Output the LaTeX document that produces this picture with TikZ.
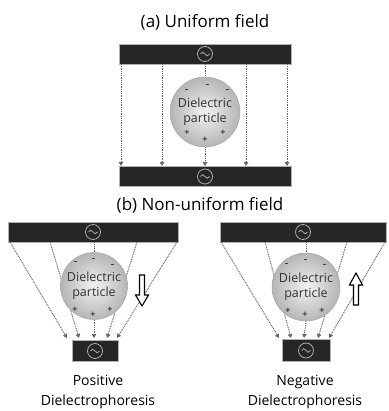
\documentclass[tikz,border=0pt]{standalone}
\usepackage{fontspec}
\setmainfont{Open Sans}
\usetikzlibrary{arrows.meta}
\begin{document}
\begin{tikzpicture}[x=1pt,y=-1pt,
  electrode/.style={draw=gray!60, line width=0.6pt, fill=black!85, inner sep=0pt},
  field/.style={draw=black!60, line width=1pt, dash pattern=on 0.9pt off 0.9pt},
  fieldarrow/.style={field, -{Triangle[length=4pt,width=4.5pt]}},
  particle/.style={circle, draw=gray!70, line width=0.5pt, shade, inner color=gray!10,
    outer color=gray!58, align=center, inner sep=0pt, font=\fontsize{12.5}{15}\selectfont,
    text=black!80},
  title/.style={font=\fontsize{17}{20}\selectfont},
  caption/.style={font=\fontsize{14}{20}\selectfont, align=center},
  chargetxt/.style={font=\fontsize{9}{9}\selectfont\bfseries, text=black!75, inner sep=0pt},
  hollow/.style={draw=black, line width=1.1pt, fill=white, line join=miter},
  acsrc/.pic={
    \draw[gray!65, line width=0.8pt] (0,0) circle (7.5);
    \draw[gray!65, line width=0.8pt] (-4.5,0) sin (-2.25,-1.8) cos (0,0) sin (2.25,1.8) cos (4.5,0);
  }
]
\useasboundingbox (0,0) rectangle (388,411);

% ---------------- (a) uniform field ----------------
\node[title] (ttla) at (205,22) {(a) Uniform field};
\node[electrode, minimum width=172, minimum height=20] (topa) at (205,54) {};
\node[electrode, minimum width=172, minimum height=20] (bota) at (205,176.5) {};
\pic at (topa) {acsrc};
\pic at (bota) {acsrc};

\foreach \x [count=\i] in {121,162,246,287} {
  \coordinate (as\i) at (\x,64);
  \coordinate (ae\i) at (\x,166);
  \draw[fieldarrow] (as\i) -- (ae\i);
}
\node[particle, minimum size=70] (pa) at (205,112) {Dielectric\\particle};
\coordinate (ae0) at (205,166);
\draw[field] (topa.south) -- (pa.north);
\draw[fieldarrow] (pa.south) -- (ae0);
\foreach \dx/\dy in {-19/-22,2/-27,22/-22}
  \node[chargetxt] at ([shift={(\dx,\dy)}]pa) {\rule{3pt}{1pt}};
\foreach \dx/\dy in {-18/21,0/28,18/21}
  \node[chargetxt] at ([shift={(\dx,\dy)}]pa) {+};

% ---------------- (b) non-uniform field ----------------
\node[title] (ttlb) at (200,205) {(b) Non-uniform field};

% positive dielectrophoresis
\node[electrode, minimum width=170, minimum height=20] (topl) at (93,232) {};
\node[electrode, minimum width=46, minimum height=21] (botl) at (95,351) {};
\pic at (topl) {acsrc};
\pic at (botl) {acsrc};
\foreach \xs/\xe [count=\i] in {10/67,50/79,137/107,177/117} {
  \coordinate (ls\i) at (\xs,242);
  \coordinate (le\i) at (\xe,338);
  \draw[fieldarrow] (ls\i) -- (le\i);
}
\node[particle, minimum size=67] (pl) at (94,286) {Dielectric\\particle};
\coordinate (le0) at (94,338);
\draw[field] (topl.south -| pl.north) -- (pl.north);
\draw[fieldarrow] (pl.south) -- (le0);
\foreach \dx/\dy in {-19/-25,-1/-28,18/-22}
  \node[chargetxt] at ([shift={(\dx,\dy)}]pl) {\rule{3pt}{1pt}};
\foreach \dx/\dy in {-19/24,-1/29,16/24}
  \node[chargetxt] at ([shift={(\dx,\dy)}]pl) {+};
\coordinate (dl) at (142,275);
\draw[hollow] ([shift={(-2.5,0)}]dl) -- ++(0,20) -- ++(-4,0) -- ++(6.5,11) -- ++(6.5,-11)
  -- ++(-4,0) -- ++(0,-20) -- cycle;
\node[caption] (capl) at (98,392) {Positive\\Dielectrophoresis};

% negative dielectrophoresis
\node[electrode, minimum width=166, minimum height=20] (topr) at (303,232) {};
\node[electrode, minimum width=48, minimum height=22] (botr) at (306,350.5) {};
\pic at (topr) {acsrc};
\pic at (botr) {acsrc};
\foreach \xs/\xe [count=\i] in {221/279,265/291,347/318,385/329} {
  \coordinate (rs\i) at (\xs,242);
  \coordinate (re\i) at (\xe,338);
  \draw[fieldarrow] (rs\i) -- (re\i);
}
\node[particle, minimum size=68] (pr) at (306,287) {Dielectric\\particle};
\coordinate (re0) at (304,338);
\draw[field] (topr.south -| pr.north) -- (pr.north);
\draw[fieldarrow] (pr.south) -- (re0);
\foreach \dx/\dy in {-20/-24,-1/-28,18/-23}
  \node[chargetxt] at ([shift={(\dx,\dy)}]pr) {\rule{3pt}{1pt}};
\foreach \dx/\dy in {-18/24,-1/28,16/24}
  \node[chargetxt] at ([shift={(\dx,\dy)}]pr) {+};
\coordinate (ur) at (356,305);
\draw[hollow] ([shift={(-2.5,0)}]ur) -- ++(0,-20) -- ++(-4,0) -- ++(6.5,-12) -- ++(6.5,12)
  -- ++(-4,0) -- ++(0,20) -- cycle;
\node[caption] (capr) at (305,392) {Negative\\Dielectrophoresis};
\end{tikzpicture}
\end{document}
